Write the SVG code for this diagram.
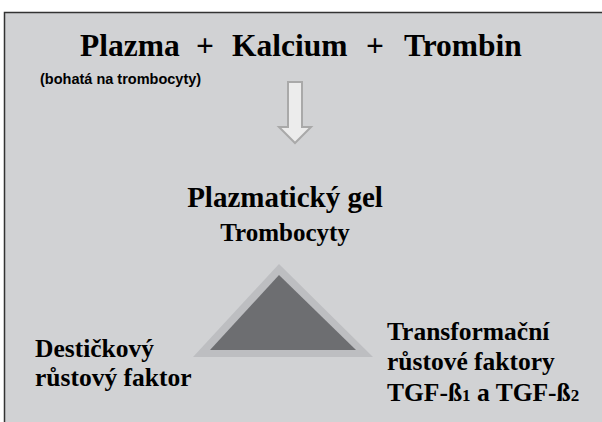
<svg xmlns="http://www.w3.org/2000/svg" width="602" height="422" viewBox="0 0 602 422">
<style>
text.serif{font-family:'Liberation Serif','Times New Roman','DejaVu Serif',serif;font-weight:700;fill:#000}
text.sans{font-family:'Liberation Sans',Arial,sans-serif;font-weight:700;fill:#000}
</style>
<rect x="0" y="0" width="602" height="422" fill="#ffffff"/>
<rect x="5" y="13" width="600" height="412" fill="#d1d2d4"/>
<path d="M4.5,425 V12.5 H605" fill="none" stroke="#333333" stroke-width="1.5"/>
<g id="title">
<text class="serif" font-size="31.5" y="56"><tspan x="80">Plazma</tspan><tspan x="196">+</tspan><tspan x="232">Kalcium</tspan><tspan x="366">+</tspan><tspan x="404">Trombin</tspan></text>
</g>
<g id="note">
<text class="sans" font-size="14.5" x="40" y="84">(bohatá na trombocyty)</text>
</g>
<g id="connectors">
<polygon points="288,82 302,82 302,127 311,127 295,143 279,127 288,127" fill="#ececec" stroke="#a9a9a9" stroke-width="2"/>
</g>
<g id="gel">
<text class="serif" font-size="29" x="285" y="207" text-anchor="middle">Plazmatický gel</text>
<text class="serif" font-size="25" x="285" y="241" text-anchor="middle">Trombocyty</text>
</g>
<g id="triangle">
<polygon points="279,264 373,357 193,357" fill="#bdbec1"/>
<polygon points="279,275 356,350 210,350" fill="#6d6e71"/>
</g>
<g id="pdgf">
<text class="serif" font-size="25.5" x="35" y="357">Destičkový</text>
<text class="serif" font-size="25.5" x="35" y="386">růstový faktor</text>
</g>
<g id="tgf">
<text class="serif" font-size="25.5" x="387" y="340">Transformační</text>
<text class="serif" font-size="25.5" x="387" y="370">růstové faktory</text>
<text class="serif" font-size="25.5" x="387" y="401">TGF-ß<tspan font-size="17">1</tspan> a TGF-ß<tspan font-size="17">2</tspan></text>
</g>
</svg>
